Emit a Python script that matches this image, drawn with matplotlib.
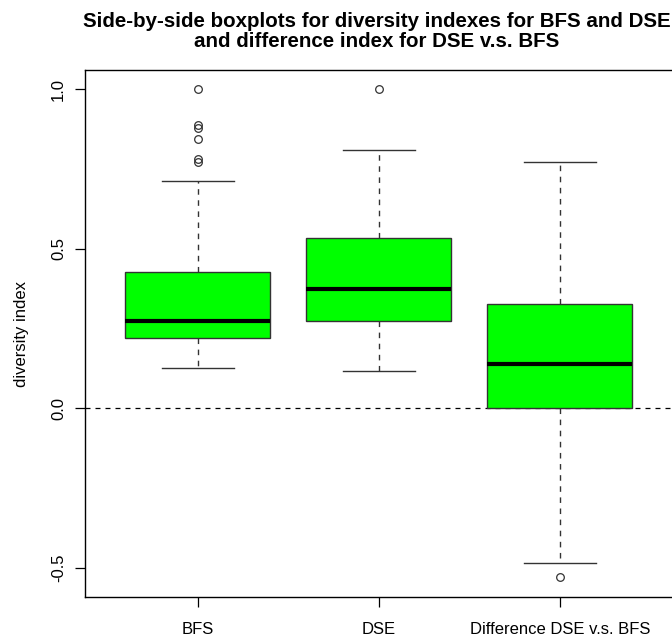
import matplotlib
matplotlib.use("Agg")
import matplotlib.pyplot as plt

plt.rcParams['font.family'] = ['Liberation Sans', 'DejaVu Sans']

# values
groups = ['BFS', 'DSE', 'Difference DSE v.s. BFS']
q1 = [0.220, 0.273, 0.000]
median = [0.273, 0.373, 0.140]
q3 = [0.427, 0.533, 0.329]
whisker_low = [0.126, 0.116, -0.483]
whisker_high = [0.713, 0.810, 0.772]
outliers = [[1.0, 0.890, 0.880, 0.845, 0.781, 0.772], [1.0], [-0.527]]

stats = []
for i in range(len(groups)):
    stats.append({'label': groups[i], 'q1': q1[i], 'med': median[i], 'q3': q3[i],
                  'whislo': whisker_low[i], 'whishi': whisker_high[i],
                  'fliers': outliers[i]})

fig = plt.figure(figsize=(6.72, 6.41), dpi=100)
ax = fig.add_axes([0.1272, 0.0686, 0.8728, 0.8222])

ax.axhline(0, color='black', linestyle=(0, (4, 4)), linewidth=0.9, zorder=1)

ax.bxp(stats, positions=[1, 2, 3], widths=0.8, patch_artist=True,
       boxprops=dict(facecolor='#00ff00', edgecolor='#333333', linewidth=1.0),
       medianprops=dict(color='black', linewidth=3.0),
       whiskerprops=dict(color='#333333', linestyle=(0, (4, 4)), linewidth=1.0),
       capprops=dict(color='#333333', linewidth=1.0),
       capwidths=0.4,
       flierprops=dict(marker='o', markerfacecolor='none', markeredgecolor='#333333',
                       markersize=5.5, markeredgewidth=0.9),
       zorder=2)

ax.set_xlim(0.38, 3.62)
ax.set_ylim(-0.591, 1.061)
ax.set_yticks([-0.5, 0.0, 0.5, 1.0])
ax.set_yticklabels(['-0.5', '0.0', '0.5', '1.0'], rotation=90, va='center')
ax.set_xticks([1, 2, 3])
ax.set_xticklabels(groups)
ax.tick_params(axis='both', labelsize=12, length=7, width=0.9)
ax.tick_params(axis='x', pad=11)
ax.tick_params(axis='y', pad=7)
ax.set_ylabel('diversity index', fontsize=12, labelpad=16)

ax.spines['right'].set_visible(False)
for s in ['left', 'top', 'bottom']:
    ax.spines[s].set_linewidth(1.0)

fig.text(0.56, 0.982, 'Side-by-side boxplots for diversity indexes for BFS and DSE\nand difference index for DSE v.s. BFS',
         ha='center', va='top', fontsize=14.8, fontweight='bold', linespacing=1.1)

fig.savefig('out.png', dpi=100)
